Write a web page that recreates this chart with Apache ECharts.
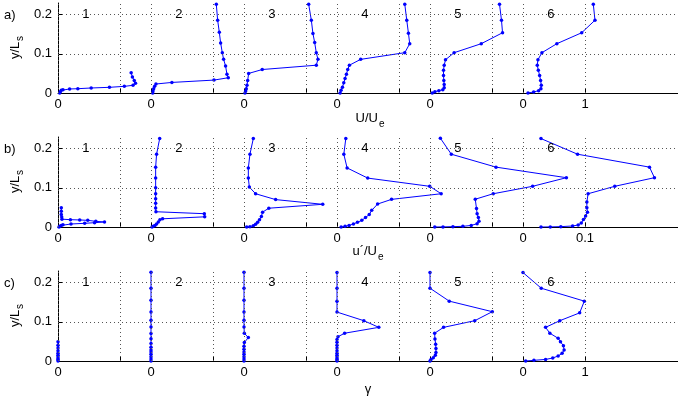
<!DOCTYPE html>
<html>
<head>
<meta charset="utf-8">
<script src="https://cdn.jsdelivr.net/npm/echarts@6/dist/echarts.min.js"></script>
<style>
html,body{margin:0;padding:0;background:#fff;}
#chart{width:678px;height:398px;}
</style>
</head>
<body>
<div id="chart"></div>
<script>
// ---------- DATA ----------
const profileNames = ['1', '2', '3', '4', '5', '6'];
const yTicks = [0, 0.1, 0.2];
const yTickLabels = ['0', '0.1', '0.2'];

// Panel a) U/Ue
const aY1 = [0, 0.0034, 0.0068, 0.0085, 0.0103, 0.011, 0.0128, 0.0145, 0.017, 0.0197, 0.025, 0.032, 0.041, 0.052];
const aU1 = [0.027, 0.037, 0.053, 0.08, 0.187, 0.32, 0.535, 0.83, 1.07, 1.21, 1.25, 1.23, 1.2, 1.18];
const aY2 = [0, 0.005, 0.011, 0.017, 0.023, 0.027, 0.033, 0.039, 0.048, 0.069, 0.086, 0.103, 0.128, 0.155, 0.186, 0.227];
const aU2 = [0.027, 0.032, 0.043, 0.059, 0.08, 0.337, 1.016, 1.246, 1.225, 1.203, 1.171, 1.15, 1.123, 1.102, 1.075, 1.053];
const aY3 = [0, 0.005, 0.011, 0.02, 0.032, 0.05, 0.06, 0.071, 0.086, 0.103, 0.129, 0.152, 0.186, 0.227];
const aU3 = [0.016, 0.027, 0.037, 0.048, 0.059, 0.075, 0.294, 1.166, 1.193, 1.166, 1.14, 1.112, 1.086, 1.043];
const aY4 = [0, 0.007, 0.015, 0.026, 0.037, 0.048, 0.06, 0.071, 0.086, 0.103, 0.126, 0.153, 0.186, 0.227];
const aU4 = [0.05, 0.066, 0.088, 0.109, 0.13, 0.152, 0.173, 0.2, 0.382, 1.093, 1.173, 1.152, 1.125, 1.093];
const aY5 = [0, 0.0034, 0.006, 0.0085, 0.0137, 0.022, 0.032, 0.045, 0.058, 0.071, 0.085, 0.103, 0.126, 0.154, 0.186, 0.227];
const aU5 = [0.036, 0.079, 0.143, 0.207, 0.229, 0.229, 0.223, 0.218, 0.218, 0.229, 0.25, 0.389, 0.827, 1.17, 1.153, 1.121];
const aY6 = [0, 0.0026, 0.006, 0.011, 0.02, 0.032, 0.045, 0.058, 0.071, 0.085, 0.103, 0.126, 0.154, 0.186, 0.227];
const aU6 = [0.081, 0.172, 0.252, 0.289, 0.295, 0.284, 0.268, 0.247, 0.23, 0.241, 0.305, 0.546, 0.947, 1.161, 1.134];

// Panel b) u'/Ue
const bY1 = [0, 0.0017, 0.004, 0.006, 0.0077, 0.0094, 0.011, 0.0128, 0.0145, 0.017, 0.018, 0.0187, 0.02, 0.0255, 0.032, 0.04, 0.049];
const bU1 = [0.0016, 0.003, 0.0053, 0.008, 0.021, 0.043, 0.059, 0.075, 0.061, 0.048, 0.035, 0.02, 0.0064, 0.006, 0.0053, 0.0053, 0.0053];
const bY2 = [0, 0.0017, 0.004, 0.0077, 0.0128, 0.0187, 0.021, 0.026, 0.034, 0.039, 0.0485, 0.061, 0.072, 0.085, 0.1, 0.125, 0.153, 0.186, 0.226];
const bU2 = [0.0016, 0.0037, 0.0064, 0.009, 0.0118, 0.0144, 0.0187, 0.0866, 0.086, 0.008, 0.0075, 0.0075, 0.0075, 0.0075, 0.0075, 0.0075, 0.0075, 0.009, 0.014];
const bY3 = [0, 0.0009, 0.0034, 0.0068, 0.012, 0.0187, 0.027, 0.038, 0.048, 0.058, 0.07, 0.085, 0.102, 0.125, 0.151, 0.186, 0.226];
const bU3 = [0.0043, 0.0096, 0.015, 0.0187, 0.022, 0.025, 0.028, 0.03, 0.04, 0.127, 0.051, 0.0187, 0.0086, 0.007, 0.007, 0.0096, 0.015];
const bY4 = [0, 0.0017, 0.004, 0.0077, 0.012, 0.017, 0.024, 0.032, 0.0425, 0.0587, 0.0706, 0.085, 0.104, 0.125, 0.151, 0.186, 0.226];
const bU4 = [0.0067, 0.013, 0.0195, 0.0265, 0.033, 0.04, 0.046, 0.052, 0.056, 0.0655, 0.088, 0.168, 0.1495, 0.0495, 0.0163, 0.011, 0.0142];
const bY5 = [0, 0.0003, 0.0009, 0.0017, 0.004, 0.0085, 0.015, 0.024, 0.034, 0.047, 0.071, 0.085, 0.104, 0.126, 0.153, 0.186, 0.227];
const bU5 = [0.0077, 0.021, 0.037, 0.053, 0.0665, 0.076, 0.079, 0.078, 0.076, 0.075, 0.073, 0.102, 0.1655, 0.22, 0.1065, 0.0344, 0.0167];
const bY6 = [0, 0.0003, 0.0009, 0.0026, 0.005, 0.01, 0.019, 0.028, 0.038, 0.049, 0.064, 0.085, 0.104, 0.126, 0.153, 0.186, 0.226];
const bU6 = [0.029, 0.044, 0.061, 0.08, 0.089, 0.094, 0.0975, 0.101, 0.104, 0.103, 0.103, 0.105, 0.148, 0.212, 0.204, 0.088, 0.029];

// Panel c) gamma
const cY1 = [0, 0.003, 0.006, 0.01, 0.015, 0.02, 0.026, 0.033, 0.04, 0.049];
const cG1 = [0, 0, 0, 0, 0, 0, 0, 0, 0, 0];
const cY2 = [0, 0.005, 0.011, 0.017, 0.023, 0.028, 0.035, 0.045, 0.057, 0.07, 0.087, 0.104, 0.125, 0.155, 0.186, 0.227];
const cG2 = [0, 0, 0, 0, 0, 0, 0, 0, 0, 0, 0, 0, 0, 0, 0, 0];
const cY3 = [0, 0.005, 0.011, 0.017, 0.023, 0.03, 0.038, 0.047, 0.06, 0.071, 0.087, 0.104, 0.125, 0.155, 0.186, 0.227];
const cG3 = [0, 0, 0, 0, 0, 0, 0, 0.005, 0.07, 0.005, 0, 0, 0, 0, 0, 0];
const cY4 = [0, 0.003, 0.006, 0.01, 0.015, 0.02, 0.026, 0.033, 0.04, 0.048, 0.055, 0.062, 0.071, 0.086, 0.103, 0.125, 0.153, 0.186, 0.226];
const cG4 = [0, 0, 0, 0, 0, 0, 0, 0, 0, 0, 0, 0.016, 0.123, 0.674, 0.433, 0, 0, 0, 0];
const cY5 = [0, 0.004, 0.0085, 0.0145, 0.022, 0.032, 0.043, 0.056, 0.071, 0.086, 0.103, 0.126, 0.153, 0.186, 0.226];
const cG5 = [0, 0.016, 0.053, 0.086, 0.096, 0.096, 0.091, 0.08, 0.075, 0.219, 0.722, 1.005, 0.31, 0, 0];
const cY6 = [0, 0.0017, 0.004, 0.0077, 0.0128, 0.0196, 0.028, 0.039, 0.049, 0.058, 0.071, 0.086, 0.103, 0.123, 0.153, 0.186, 0.226];
const cG6 = [0.043, 0.176, 0.364, 0.48, 0.567, 0.631, 0.663, 0.652, 0.604, 0.567, 0.433, 0.364, 0.594, 0.914, 0.989, 0.294, 0];

// ---------- LAYOUT / BUILD ----------
const FONT = "'Liberation Sans', Arial, Helvetica, sans-serif";
const BLUE = '#0000ff';
const panels = [
  { top: 3, step: 1.5, unit: 1, unitLabel: '1', xMax: 10, ys: [aY1, aY2, aY3, aY4, aY5, aY6], vs: [aU1, aU2, aU3, aU4, aU5, aU6] },
  { top: 137, step: 0.15, unit: 0.1, unitLabel: '0.1', xMax: 1.0, ys: [bY1, bY2, bY3, bY4, bY5, bY6], vs: [bU1, bU2, bU3, bU4, bU5, bU6] },
  { top: 271, step: 1.5, unit: 1, unitLabel: '1', xMax: 10, ys: [cY1, cY2, cY3, cY4, cY5, cY6], vs: [cG1, cG2, cG3, cG4, cG5, cG6] }
];
const GRID_H = 90;
const r4 = v => Math.round(v * 10000) / 10000;

const grids = [], xAxes = [], yAxes = [], series = [];
panels.forEach((p, pi) => {
  const offsets = profileNames.map((_, k) => r4(k * p.step));
  p.offsets = offsets;
  const tickVals = [];
  offsets.forEach(o => { tickVals.push(o); tickVals.push(r4(o + p.unit)); });
  const unitVal = r4(offsets[offsets.length - 1] + p.unit);
  const labelVals = offsets.slice().concat([unitVal]);

  grids.push({ left: 58, right: 0, top: p.top, height: GRID_H, containLabel: false });
  xAxes.push({
    type: 'value', gridIndex: pi, min: 0, max: p.xMax,
    axisLine: { show: true, onZero: false, lineStyle: { color: '#000', width: 1 } },
    axisTick: { show: true, inside: true, length: 4, customValues: tickVals, lineStyle: { color: '#000' } },
    axisLabel: {
      show: true, customValues: labelVals, margin: 5, color: '#000', fontSize: 13, fontFamily: FONT,
      formatter: v => (Math.abs(v - unitVal) < 1e-6 ? p.unitLabel : '0')
    },
    splitLine: { show: false }
  });
  yAxes.push({
    type: 'value', gridIndex: pi, min: 0, max: 0.23,
    axisLine: { show: true, lineStyle: { color: '#000', width: 1 } },
    axisTick: { show: true, inside: true, length: 4, customValues: yTicks, lineStyle: { color: '#000' } },
    axisLabel: {
      show: true, customValues: yTicks, margin: 6, color: '#000', fontSize: 13, fontFamily: FONT,
      formatter: v => { const i = yTicks.findIndex(t => Math.abs(t - v) < 1e-9); return i >= 0 ? yTickLabels[i] : ''; }
    },
    splitLine: { show: false }
  });

  // dotted grid lines (dummy series carrying markLine)
  series.push({
    type: 'line', xAxisIndex: pi, yAxisIndex: pi, z: 1, silent: true,
    data: [[0, 0]], symbol: 'none', lineStyle: { width: 0 },
    markLine: {
      silent: true, symbol: ['none', 'none'], label: { show: false }, animation: false,
      lineStyle: { type: [1, 3], color: '#555', width: 1 },
      data: tickVals.map(v => ({ xAxis: v })).concat([0.1, 0.2].map(v => ({ yAxis: v })))
    }
  });

  p.ys.forEach((ys, k) => {
    const vals = p.vs[k];
    series.push({
      type: 'line', xAxisIndex: pi, yAxisIndex: pi, z: 3,
      data: ys.map((y, i) => [offsets[k] + vals[i], y]),
      symbol: 'circle', symbolSize: 3.5, showSymbol: true,
      lineStyle: { color: BLUE, width: 1 }, itemStyle: { color: BLUE },
      animation: false, silent: true
    });
  });
});

function txt(x, y, s, opt) {
  return Object.assign({
    type: 'text', x: x, y: y, silent: true, z: 10,
    style: Object.assign({ text: s, fill: '#000', font: '13px ' + FONT, textAlign: 'center', textVerticalAlign: 'middle' }, (opt && opt.style) || {})
  }, opt && opt.rot !== undefined ? { rotation: opt.rot } : {});
}

const graphics = [];
['a)', 'b)', 'c)'].forEach((s, i) => {
  graphics.push(txt(4, [15, 149, 283][i], s, { style: { textAlign: 'left' } }));
  const c = panels[i].top + GRID_H / 2;
  graphics.push(txt(15, c + 11, 'y/L', { rot: Math.PI / 2, style: { textAlign: 'left' } }));
  graphics.push(txt(20, c - 7, 's', { rot: Math.PI / 2, style: { textAlign: 'left', font: '10px ' + FONT } }));
});
graphics.push(txt(378, 118, 'U/U', { style: { textAlign: 'right' } }));
graphics.push(txt(379, 124, 'e', { style: { textAlign: 'left', font: '10px ' + FONT } }));
graphics.push(txt(377, 251, 'u\u00B4/U', { style: { textAlign: 'right' } }));
graphics.push(txt(378, 257, 'e', { style: { textAlign: 'left', font: '10px ' + FONT } }));
graphics.push(txt(368, 389, '\u03B3', {}));

const chart = echarts.init(document.getElementById('chart'), null, { renderer: 'canvas' });
chart.setOption({
  animation: false,
  backgroundColor: '#fff',
  grid: grids, xAxis: xAxes, yAxis: yAxes, series: series
});

// profile numbers placed through the axes' own scales
panels.forEach((p, pi) => {
  p.offsets.forEach((o, k) => {
    const pt = chart.convertToPixel({ gridIndex: pi }, [o + 0.3 * p.step, 0.2]);
    graphics.push(txt(pt[0], pt[1], profileNames[k], {}));
  });
});
chart.setOption({ graphic: graphics });
</script>
</body>
</html>
